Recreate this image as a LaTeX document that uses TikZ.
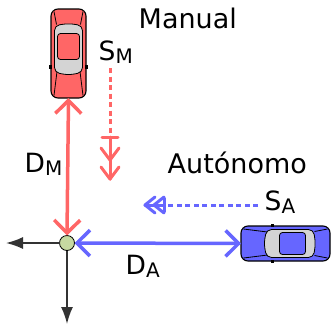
\documentclass[tikz,border=0pt]{standalone}
\usepackage{fontspec}
\setmainfont{DejaVu Sans}
\usetikzlibrary{arrows.meta}

\definecolor{carred}{HTML}{FF6666}
\definecolor{carblue}{HTML}{6666FF}
\definecolor{hubgreen}{HTML}{C6D9A1}
\definecolor{axisgray}{HTML}{333333}
\definecolor{glass}{HTML}{D4D4D4}

\newcommand\lowsub[1]{\raisebox{-3pt}{\fontsize{20}{20}\selectfont #1}}

\tikzset{
  % top view of a car, front pointing towards -x
  pics/topcar/.style={code={
    \draw[fill=#1, line width=1.1pt, rounded corners=7pt] (-44.5,-17.5) rectangle (44.5,17.5);
    \draw[line width=0.8pt] (-42,-14.5) -- (-18,-11.5);
    \draw[line width=0.8pt] (-42,14.5) -- (-18,11.5);
    \draw[line width=0.8pt] (29,-12) -- (42,-14.5);
    \draw[line width=0.8pt] (29,12) -- (42,14.5);
    \draw[fill=glass, line width=0.8pt, rounded corners=5pt]
      (-19,-14) -- (28,-14) -- (30,0) -- (28,14) -- (-19,14) -- (-21.5,0) -- cycle;
    \draw[fill=#1, line width=0.8pt, rounded corners=3pt] (-6,-11) rectangle (20,11);
    \fill (-15,-19.5) rectangle (-11.5,-16.5);
    \fill (-15,16.5) rectangle (-11.5,19.5);
  }},
  carframe/.style={inner sep=0, outer sep=0, draw=none},
  hub/.style={circle, draw=black, line width=0.8pt, fill=hubgreen,
    minimum size=15pt, inner sep=0, outer sep=0},
  barbs/.style={{Straight Barb[length=13pt,width=26pt]}-{Straight Barb[length=13pt,width=26pt]}},
  redline/.style={carred, line width=3.5pt, barbs},
  blueline/.style={carblue, line width=3.5pt, barbs},
  axis/.style={axisgray, line width=1.6pt, -{Latex[length=17pt,width=12pt]}},
  dashred/.style={carred, line width=3pt, dash pattern=on 5pt off 3.5pt},
  tipred/.style={carred, line width=3pt, line cap=round, line join=round},
  dashblue/.style={carblue, line width=3pt, dash pattern=on 5pt off 3.5pt},
  tipblue/.style={carblue, line width=3pt, line cap=round, line join=round},
  bigtext/.style={inner sep=0, anchor=base west, font=\fontsize{27}{27}\selectfont},
  lbl/.style={inner sep=0, anchor=base west, font=\fontsize{26.5}{26.5}\selectfont}
}

\begin{document}
\begin{tikzpicture}[x=1pt,y=-1pt]
\useasboundingbox (0,0) rectangle (332,325);

% crossing point and the two cars
\node[hub] (hub) at (67,243) {};
\node[carframe, minimum width=35pt, minimum height=89pt] (redcar) at (68.5,53.5) {};
\pic[rotate=90] at (redcar) {topcar=carred};
\node[carframe, minimum width=89pt, minimum height=35pt] (bluecar) at (285.5,243.5) {};
\pic at (bluecar) {topcar=carblue};

% distances to the crossing
\draw[redline] (redcar.south) -- (hub.north);
\draw[blueline] (hub.east) -- (bluecar.west);

% axes
\coordinate (westend) at (6,243);
\coordinate (southend) at (67,324);
\draw[axis] (hub.west) -- (westend);
\draw[axis] (hub.south) -- (southend);

% texts
\node[bigtext] (manual) at (138.5,28) {Manual};
\node[bigtext] (auto) at (167.5,173) {Autónomo};
\node[lbl] (sm) at (98.5,60) {S\lowsub{M}};
\node[lbl] (sa) at (264.5,210) {S\lowsub{A}};
\node[lbl] (dm) at (24.5,172) {D\lowsub{M}};
\node[lbl] (da) at (125.5,274) {D\lowsub{A}};

% signal of the manual car (positive yshift is upwards on the page)
\coordinate (smtop) at (110,68);
\coordinate (smbar) at (110,137);
\coordinate (smtip) at (110,179);
\draw[dashred] (smtop) -- ([yshift=3pt]smbar);
\draw[tipred] ([xshift=-8pt]smbar) -- ([xshift=8pt]smbar);
\draw[tipred] (smbar) -- (smtip);
\draw[tipred] ([xshift=-9pt,yshift=31pt]smtip) -- ([yshift=19pt]smtip) -- ([xshift=9pt,yshift=31pt]smtip);
\draw[tipred] ([xshift=-9pt,yshift=12pt]smtip) -- (smtip) -- ([xshift=9pt,yshift=12pt]smtip);

% signal of the autonomous car
\coordinate (sastart) at (258,205);
\coordinate (sabar) at (164,205);
\coordinate (satip) at (145,205);
\draw[dashblue] (sastart) -- ([xshift=3pt]sabar);
\draw[tipblue] ([yshift=-7pt]sabar) -- ([yshift=7pt]sabar);
\draw[tipblue] (sabar) -- (satip);
\draw[tipblue] ([xshift=10pt,yshift=-8pt]satip) -- (satip) -- ([xshift=10pt,yshift=8pt]satip);
\draw[tipblue] ([xshift=19pt,yshift=-8pt]satip) -- ([xshift=9pt]satip) -- ([xshift=19pt,yshift=8pt]satip);
\end{tikzpicture}
\end{document}
